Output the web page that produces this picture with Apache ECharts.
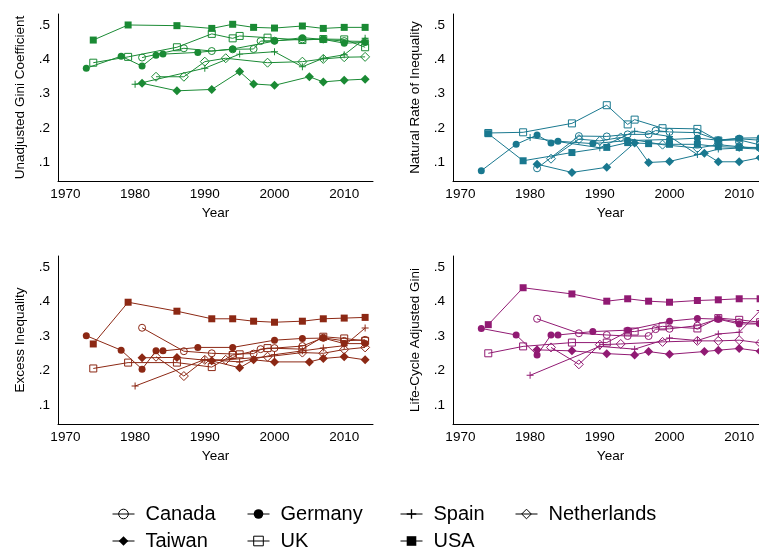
<!DOCTYPE html>
<html>
<head>
<meta charset="utf-8">
<script src="https://cdn.jsdelivr.net/npm/echarts@6/dist/echarts.min.js"></script>
<style>
  html, body { margin: 0; padding: 0; background: #fff; }
  #chart { width: 759px; height: 552px; }
</style>
</head>
<body>
<div id="chart"></div>
<script>
// countries in legend order
var countries = ['Canada', 'Germany', 'Spain', 'Netherlands', 'Taiwan', 'UK', 'USA'];

// survey years for each country (same order as countries)
var years = [
  [1981, 1987, 1991, 1994, 1997, 1998, 2000, 2004, 2007, 2010, 2013],
  [1973, 1978, 1981, 1983, 1984, 1989, 1994, 2000, 2004, 2007, 2010, 2013],
  [1980, 1990, 1995, 2000, 2004, 2007, 2010, 2013],
  [1983, 1987, 1990, 1993, 1999, 2004, 2007, 2010, 2013],
  [1981, 1986, 1991, 1995, 1997, 2000, 2005, 2007, 2010, 2013],
  [1974, 1979, 1986, 1991, 1994, 1995, 1999, 2004, 2007, 2010, 2013],
  [1974, 1979, 1986, 1991, 1994, 1997, 2000, 2004, 2007, 2010, 2013]
];

var unadjusted = [
  [0.405, 0.432, 0.424, 0.429, 0.430, 0.453, 0.454, 0.458, 0.458, 0.453, 0.452],
  [0.374, 0.409, 0.380, 0.412, 0.415, 0.420, 0.430, 0.453, 0.463, 0.458, 0.447, 0.449],
  [0.327, 0.374, 0.415, 0.422, 0.378, 0.403, 0.413, 0.461],
  [0.349, 0.349, 0.393, 0.403, 0.390, 0.393, 0.401, 0.406, 0.407],
  [0.330, 0.308, 0.312, 0.364, 0.328, 0.324, 0.349, 0.334, 0.339, 0.342],
  [0.390, 0.407, 0.435, 0.474, 0.461, 0.468, 0.463, 0.456, 0.459, 0.458, 0.435],
  [0.456, 0.500, 0.498, 0.490, 0.502, 0.493, 0.491, 0.497, 0.490, 0.493, 0.493]
];

var naturalRate = [
  [0.082, 0.176, 0.175, 0.181, 0.181, 0.192, 0.188, 0.186, 0.164, 0.168, 0.164],
  [0.075, 0.152, 0.179, 0.156, 0.161, 0.154, 0.163, 0.166, 0.170, 0.164, 0.170, 0.171],
  [0.172, 0.142, 0.190, 0.175, 0.122, 0.138, 0.141, 0.138],
  [0.110, 0.167, 0.162, 0.172, 0.151, 0.141, 0.151, 0.145, 0.140],
  [0.094, 0.070, 0.085, 0.156, 0.099, 0.102, 0.126, 0.101, 0.101, 0.113],
  [0.185, 0.187, 0.213, 0.266, 0.210, 0.224, 0.199, 0.197, 0.163, 0.165, 0.150],
  [0.183, 0.104, 0.128, 0.143, 0.157, 0.154, 0.152, 0.152, 0.145, 0.143, 0.143]
];

var excess = [
  [0.324, 0.256, 0.250, 0.248, 0.249, 0.262, 0.265, 0.271, 0.295, 0.286, 0.289],
  [0.301, 0.259, 0.204, 0.257, 0.257, 0.267, 0.267, 0.288, 0.293, 0.294, 0.278, 0.278],
  [0.155, 0.232, 0.225, 0.246, 0.257, 0.265, 0.272, 0.323],
  [0.240, 0.184, 0.231, 0.231, 0.240, 0.252, 0.250, 0.261, 0.267],
  [0.237, 0.238, 0.228, 0.208, 0.231, 0.225, 0.225, 0.235, 0.240, 0.231],
  [0.206, 0.223, 0.223, 0.210, 0.245, 0.247, 0.265, 0.262, 0.298, 0.293, 0.286],
  [0.277, 0.398, 0.372, 0.350, 0.350, 0.343, 0.340, 0.343, 0.350, 0.352, 0.354]
];

var lifeCycle = [
  [0.350, 0.308, 0.303, 0.300, 0.300, 0.320, 0.321, 0.330, 0.350, 0.340, 0.336],
  [0.322, 0.303, 0.245, 0.303, 0.303, 0.313, 0.317, 0.343, 0.351, 0.349, 0.335, 0.335],
  [0.186, 0.270, 0.262, 0.294, 0.287, 0.306, 0.311, 0.374],
  [0.267, 0.218, 0.275, 0.277, 0.283, 0.286, 0.286, 0.288, 0.280],
  [0.260, 0.257, 0.249, 0.245, 0.255, 0.247, 0.255, 0.259, 0.264, 0.256],
  [0.250, 0.270, 0.281, 0.281, 0.313, 0.313, 0.328, 0.322, 0.352, 0.347, 0.340],
  [0.333, 0.440, 0.422, 0.401, 0.408, 0.401, 0.398, 0.403, 0.405, 0.408, 0.408]
];

var panelNames = ['Unadjusted Gini Coefficient', 'Natural Rate of Inequality', 'Excess Inequality', 'Life-Cycle Adjusted Gini'];
var yTicks = [0.1, 0.2, 0.3, 0.4, 0.5];
var xTicks = [1970, 1980, 1990, 2000, 2010];

var panels = [unadjusted, naturalRate, excess, lifeCycle];
var colors = ['#1a8a34', '#19788f', '#8c2814', '#911a73'];

var plus = 'path://M4,0h1.3v4h4v1.3h-4v4h-1.3v-4h-4v-1.3h4z';
var symbols = ['circle', 'circle', plus, 'diamond', 'diamond', 'rect', 'rect'];
var hollow = [true, false, false, true, false, true, false];
var symbolSizes = [7, 7, 7, 9, 9, 7, 7];

var font = 'Liberation Sans, Arial, sans-serif';

var grids = [
  { left: 58, top: 14, width: 315, height: 167, outerBoundsMode: 'none' },
  { left: 453, top: 14, width: 315, height: 167, outerBoundsMode: 'none' },
  { left: 58, top: 256, width: 315, height: 168, outerBoundsMode: 'none' },
  { left: 453, top: 256, width: 315, height: 168, outerBoundsMode: 'none' }
];

function markerStyle(c, color) {
  if (hollow[c]) {
    return { color: 'rgba(255,255,255,0)', borderColor: color, borderWidth: 1 };
  }
  return { color: color, borderWidth: 0 };
}

var xAxes = [], yAxes = [], series = [];
panels.forEach(function (vals, p) {
  xAxes.push({
    type: 'value', gridIndex: p, min: 1968.94, max: 2014.13,
    name: 'Year', nameLocation: 'middle', nameGap: 25,
    nameTextStyle: { fontSize: 13.5, color: '#000', fontFamily: font },
    axisLine: { show: true, onZero: false, lineStyle: { color: '#000', width: 1 } },
    axisTick: { show: false },
    splitLine: { show: false },
    axisLabel: {
      customValues: xTicks, fontSize: 13.5, color: '#000', margin: 6, fontFamily: font,
      formatter: function (v) { return String(v); }
    }
  });
  yAxes.push({
    type: 'value', gridIndex: p, min: 0.045, max: 0.532,
    name: panelNames[p], nameLocation: 'middle', nameGap: 31,
    nameTextStyle: { fontSize: 13.5, color: '#000', fontFamily: font },
    axisLine: { show: true, onZero: false, lineStyle: { color: '#000', width: 1 } },
    axisTick: { show: false },
    splitLine: { show: false },
    axisLabel: {
      customValues: yTicks, fontSize: 13.5, color: '#000', margin: 8, fontFamily: font,
      formatter: function (v) { return '.' + Math.round(v * 10); }
    }
  });
  countries.forEach(function (name, c) {
    series.push({
      type: 'line', name: name, xAxisIndex: p, yAxisIndex: p,
      data: years[c].map(function (y, i) { return [y, vals[c][i]]; }),
      symbol: symbols[c], symbolSize: symbolSizes[c], showAllSymbol: true,
      lineStyle: { color: colors[p], width: 1 },
      itemStyle: markerStyle(c, colors[p]),
      emphasis: { disabled: true },
      clip: false
    });
  });
});

var legendLeft = [112, 247, 400, 515, 112, 247, 400];
var legendTop = [504, 504, 504, 504, 531, 531, 531];
var legends = countries.map(function (name, i) {
  return {
    data: [{ name: name, itemStyle: markerStyle(i, '#000'), lineStyle: { color: '#000', width: 1 } }],
    left: legendLeft[i], top: legendTop[i], padding: 0,
    itemWidth: 22, itemHeight: 12, selectedMode: false,
    textStyle: { fontSize: 20, color: '#000', fontFamily: font, padding: [0, 0, 0, 6] }
  };
});

var chart = echarts.init(document.getElementById('chart'), null, { renderer: 'canvas' });
chart.setOption({
  animation: false,
  textStyle: { fontFamily: font },
  grid: grids,
  xAxis: xAxes,
  yAxis: yAxes,
  legend: legends,
  series: series
});
</script>
</body>
</html>
